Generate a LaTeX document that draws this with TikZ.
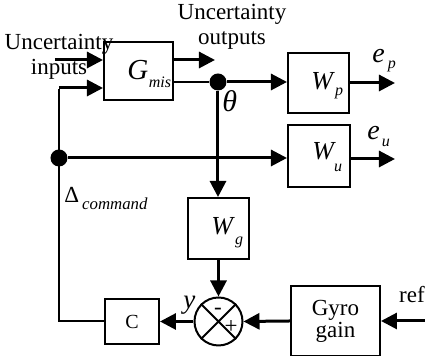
\documentclass[tikz,border=0pt]{standalone}
\usepackage{fontspec}
\setmainfont{Liberation Serif}
\usetikzlibrary{arrows.meta}
\newcommand\dsub[3][1pt]{\kern#1\raisebox{-#2}{\fontsize{8}{8}\selectfont\itshape #3}}
\newcommand\bigit[2]{{\fontsize{#1}{#1}\selectfont\itshape #2}}
\begin{document}
\begin{tikzpicture}[x=0.5pt,y=-0.5pt,
  font=\fontsize{11.5}{12}\selectfont,
  blk/.style={draw,line width=1pt,inner sep=0pt},
  arr/.style={line width=1.5pt,-{Triangle[length=8pt,width=8pt]}},
  ln/.style={line width=1pt},
  jdot/.style={circle,fill,inner sep=0pt,minimum size=8.5pt},
  lbl/.style={inner sep=0pt,anchor=base west},
  txt/.style={inner sep=0pt,anchor=base}]
\useasboundingbox (0,0) rectangle (425,356);
% blocks
\node[blk,minimum width=34.5pt,minimum height=29pt] (G) at (138.5,71) {};
\node[blk,minimum width=30.5pt,minimum height=30pt] (Wp) at (318.5,83) {};
\node[blk,minimum width=31pt,minimum height=31pt] (Wu) at (319,156) {};
\node[blk,minimum width=30.5pt,minimum height=30.5pt] (Wg) at (218.5,228.5) {};
\node[blk,minimum width=27pt,minimum height=22.5pt,font=\fontsize{10}{10}\selectfont] (C) at (132,321.5) {C};
\node[blk,minimum width=44.5pt,minimum height=35pt,align=center,font=\fontsize{11.5}{11}\selectfont] (Gy) at (335.5,321) {Gyro\\gain};
\node[draw,circle,line width=1pt,inner sep=0pt,minimum size=24pt] (S) at (218.5,321.5) {};
\draw[line width=1pt] (S.north east) -- (S.south west) (S.north west) -- (S.south east);
\node[inner sep=0pt] (minus) at (218,311) {-};
\node[inner sep=0pt] (plus) at (231,327) {+};
% block labels
\node[lbl] (Gt) at (127,80) {\bigit{14.5}{G}\dsub[0.3pt]{4pt}{mis}};
\node[lbl] (Wpt) at (311,90) {\bigit{13}{W}\dsub{3pt}{p}};
\node[lbl] (Wut) at (312,160) {\bigit{13}{W}\dsub[0pt]{6pt}{u}};
\node[lbl] (Wgt) at (211,235) {\bigit{13}{W}\dsub{5pt}{g}};
% junctions
\node[jdot] (d1) at (218,82) {};
\node[jdot] (d2) at (59,158) {};
\coordinate (i1) at (55,60);
\coordinate (corner) at (59,88);
\coordinate (o1) at (215,60);
\coordinate (ep) at (395,83);
\coordinate (eu) at (395,159);
\coordinate (refin) at (425,321);
% connectors
\draw[arr] (i1) -- (i1 -| G.west);
\draw[arr] (corner) -- (corner -| G.west);
\draw[ln] (C.west) -- (C.west -| corner) -- ([yshift=-0.75pt]corner);
\draw[arr] (G.east |- o1) -- (o1);
\draw[line width=1.2pt] (G.east |- d1) -- (d1);
\draw[arr] (d1) -- (d1 -| Wp.west);
\draw[arr] (d1) -- (d1 |- Wg.north);
\draw[arr] (d2) -- (d2 -| Wu.west);
\draw[arr] (Wp.east) -- (ep);
\draw[arr] (Wu.east |- eu) -- (eu);
\draw[arr] (Wg.south) -- (S.north);
\draw[arr] (Gy.west) -- (S.east);
\draw[arr] (S.west) -- (C.east);
\draw[arr] (refin) -- (Gy.east);
% text labels
\node[txt] (uin1) at (59,50) {Uncertainty};
\node[txt] (uin2) at (59,75) {inputs};
\node[txt] (uout1) at (232,20) {Uncertainty};
\node[txt] (uout2) at (232,45) {outputs};
\node[lbl] (th) at (222,112) {\bigit{15}{θ}};
\node[lbl] (ept) at (372,63) {\bigit{14}{e}\dsub[1.5pt]{3pt}{p}};
\node[lbl] (eut) at (367,140) {\bigit{14}{e}\dsub{3.5pt}{u}};
\node[lbl] (dl) at (64,203) {{\fontsize{11.5}{11.5}\selectfont Δ}\kern1.5pt\raisebox{-3.5pt}{\fontsize{8.4}{8.4}\selectfont\itshape command}};
\node[lbl] (yl) at (183,309) {\bigit{13.5}{y}};
\node[txt] (ref) at (412,303) {ref};
\end{tikzpicture}
\end{document}
